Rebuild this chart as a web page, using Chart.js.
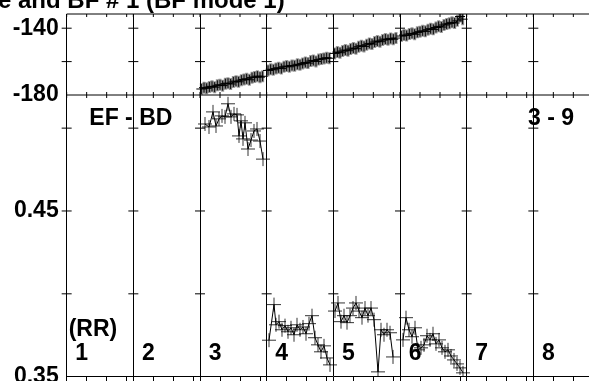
<!DOCTYPE html>
<html>
<head>
<meta charset="utf-8">
<script src="https://cdn.jsdelivr.net/npm/chart.js@4.4.1/dist/chart.umd.min.js"></script>
<style>
  html, body { margin: 0; padding: 0; background: #fff; overflow: hidden; }
  #wrap { position: relative; width: 589px; height: 381px; overflow: hidden; }
  canvas { position: absolute; left: 0; top: 0; }
</style>
</head>
<body>
<div id="wrap"><canvas id="myChart" width="610" height="400"></canvas></div>
<script>
var ctx = document.getElementById('myChart');

// panels along the x axis, each one 100 units wide
const panelNames = ['1', '2', '3', '4', '5', '6', '7', '8'];
const panelTicks = [0, 30, 60, 90];

// upper strip (phase), y ticks
const phaseTicks = [-180, -160, -140];
const phaseLabeled = [-180, -140];
// lower strip (EF - BD), y ticks
const efTicks = [0.35, 0.40, 0.45, 0.50];
const efLabeled = [0.35, 0.45];

// upper strip samples, same positions in every panel
const topX = [2, 6, 10, 14, 18, 22, 26, 30, 34, 38, 42, 46, 50, 54, 58, 62, 66, 70, 74, 78, 82, 86, 90, 94];
const phaseP3 = [-176.4, -175.6, -176.0, -175.2, -174.8, -175.3, -174.2, -173.9, -174.4, -173.2, -172.9, -173.4,
                 -172.2, -171.7, -172.1, -171.1, -170.7, -170.3, -170.9, -169.6, -169.2, -168.7, -169.3, -168.8];
const phaseP4 = [-165.3, -164.6, -164.9, -164.1, -163.7, -164.2, -163.1, -162.7, -163.1, -162.3, -162.5, -161.6,
                 -161.9, -161.1, -160.5, -160.9, -159.7, -159.3, -159.9, -158.8, -158.5, -158.1, -157.7, -158.0];
const phaseP5 = [-155.1, -154.3, -154.7, -153.7, -153.1, -153.5, -152.5, -151.9, -152.3, -151.1, -150.5, -150.9,
                 -149.9, -149.1, -149.5, -148.3, -147.7, -148.1, -147.1, -146.5, -146.9, -146.1, -146.6, -145.9];
const phaseP6 = [-144.7, -144.1, -144.4, -143.5, -143.1, -143.6, -142.5, -142.1, -141.6, -141.9, -140.9, -140.3,
                 -140.7, -139.6, -138.9, -139.3, -138.1, -137.5, -137.1, -136.5, -136.9, -135.6, -133.0, -134.6];

// lower strip samples
const efX3 = [7.5, 13.5, 19.5, 24, 28.5, 33, 37.5, 42, 46.5, 51, 55.5, 58.5, 61.5, 64.5, 67.5, 72, 76.5, 81, 85.5, 90, 94.5];
const efP3 = [0.5025, 0.5007, 0.5098, 0.5013, 0.5056, 0.5074, 0.5068, 0.5147, 0.5068, 0.5086, 0.5080, 0.4953,
              0.5044, 0.4935, 0.5032, 0.4874, 0.4928, 0.4983, 0.4995, 0.4922, 0.4813];
const efX4 = [3.5, 11, 14, 18.5, 23, 27.5, 32, 36.5, 41, 45.5, 50, 54.5, 59, 63.5, 68, 72.5, 77, 81.5, 86, 90.5, 95];
const efP4 = [0.3720, 0.3935, 0.3813, 0.3832, 0.3783, 0.3808, 0.3771, 0.3795, 0.3753, 0.3813, 0.3783, 0.3800,
              0.3759, 0.3820, 0.3868, 0.3735, 0.3692, 0.3650, 0.3686, 0.3613, 0.3571];
const efX5 = [2.5, 7, 11.5, 16, 20.5, 25, 29.5, 34, 38.5, 43, 47.5, 52, 56.5, 61, 67, 71.5, 76, 80.5, 85, 89.5];
const efP5 = [0.3896, 0.3945, 0.3832, 0.3868, 0.3826, 0.3868, 0.3914, 0.3945, 0.3896, 0.3856, 0.3914, 0.3868,
              0.3914, 0.3844, 0.3529, 0.3783, 0.3753, 0.3783, 0.3765, 0.3619];
const efX6 = [4.5, 9, 13.5, 18, 22.5, 27, 31.5, 36, 40.5, 45, 49.5, 54, 58.5, 63, 67.5, 72, 76.5, 81, 85.5, 90, 94.5];
const efP6 = [0.3722, 0.3856, 0.3783, 0.3741, 0.3795, 0.3662, 0.3674, 0.3692, 0.3747, 0.3722, 0.3759, 0.3698,
              0.3722, 0.3674, 0.3650, 0.3662, 0.3625, 0.3601, 0.3577, 0.3553, 0.3523];

// join the panels into one series, with a break between panels
function joinPanels(list) {
    let out = [];
    list.forEach(([panel, xs, ys]) => {
        xs.forEach((x, i) => out.push({x: panel * 100 + x, y: ys[i]}));
        out.push({x: panel * 100 + 99, y: null});
    });
    return out;
}

let phaseData = joinPanels([[2, topX, phaseP3], [3, topX, phaseP4], [4, topX, phaseP5], [5, topX, phaseP6]]);
let efData = joinPanels([[2, efX3, efP3], [3, efX4, efP4], [4, efX5, efP5], [5, efX6, efP6]]);

const FONT = '"Liberation Sans", Arial, sans-serif';

const frame = {
    id: 'frame',
    beforeDatasetsDraw(chart) {
        const {ctx, chartArea, scales} = chart;
        const xs = scales.x, yP = scales.yPhase, yE = scales.yEf;
        ctx.save();
        ctx.strokeStyle = '#000';
        ctx.lineWidth = 1;
        ctx.beginPath();
        [chartArea.top, yP.bottom].forEach(y => {
            ctx.moveTo(chartArea.left, y);
            ctx.lineTo(chartArea.right, y);
        });
        xs.ticks.forEach(t => {
            const x = xs.getPixelForValue(t.value);
            ctx.moveTo(x, chartArea.top);
            ctx.lineTo(x, chartArea.top + 3);
            ctx.moveTo(x, yP.bottom - 3);
            ctx.lineTo(x, yP.bottom + 3);
        });
        for (let p = 0; p <= panelNames.length; p++) {
            const x = xs.getPixelForValue(p * 100);
            phaseTicks.slice(1).forEach(v => {
                const y = yP.getPixelForValue(v);
                ctx.moveTo(x - 5, y);
                ctx.lineTo(x + 5, y);
            });
            efTicks.slice(1).forEach(v => {
                const y = yE.getPixelForValue(v);
                ctx.moveTo(x - 5, y);
                ctx.lineTo(x + 5, y);
            });
        }
        ctx.stroke();
        ctx.restore();
    }
};

const notes = {
    id: 'notes',
    afterDraw(chart) {
        const {ctx, scales: {x, yEf}} = chart;
        ctx.save();
        ctx.fillStyle = '#000';
        ctx.font = 'bold 24px ' + FONT;
        ctx.textBaseline = 'alphabetic';
        ctx.fillText('e and BF # 1 (BF mode 1)', -2, 7.5);
        ctx.font = 'bold 23px ' + FONT;
        ctx.textBaseline = 'middle';
        ctx.fillText('EF - BD', x.getPixelForValue(34), yEf.getPixelForValue(0.5056));
        ctx.fillText('3 - 9', x.getPixelForValue(692), yEf.getPixelForValue(0.5056));
        ctx.fillText('(RR)', x.getPixelForValue(3), yEf.getPixelForValue(0.3783));
        panelNames.forEach((n, p) => {
            ctx.fillText(n, x.getPixelForValue(p * 100 + 13), yEf.getPixelForValue(0.3638));
        });
        ctx.restore();
    }
};

function fixWidth(s) {
    s.width = 66.67;
    s.paddingTop = 0;
    s.paddingBottom = 0;
}

var myChart = new Chart(ctx, {
    type: 'line',
    data: {
        datasets: [
            {
                data: phaseData,
                yAxisID: 'yPhase',
                borderColor: '#000',
                borderWidth: 1,
                pointStyle: 'cross',
                pointRadius: 5,
                pointBorderColor: '#000',
                pointBorderWidth: 1
            },
            {
                data: phaseData,
                yAxisID: 'yPhase',
                showLine: false,
                pointStyle: 'line',
                pointRotation: 90,
                pointRadius: 6,
                pointBorderColor: 'rgba(0,0,0,0.4)',
                pointBorderWidth: 3
            },
            {
                data: efData,
                yAxisID: 'yEf',
                borderColor: '#000',
                borderWidth: 1,
                pointStyle: 'cross',
                pointRadius: 7,
                pointBorderColor: 'rgba(0,0,0,0.8)',
                pointBorderWidth: 1
            }
        ]
    },
    options: {
        responsive: false,
        animation: false,
        layout: { padding: { left: 0, top: 14, right: 10, bottom: 18.33 } },
        plugins: {
            legend: { display: false },
            tooltip: { enabled: false }
        },
        scales: {
            x: {
                type: 'linear',
                min: 0,
                max: 800,
                afterBuildTicks: (s) => {
                    let t = [];
                    panelNames.forEach((n, p) => panelTicks.forEach(v => t.push({value: p * 100 + v})));
                    t.push({value: 800});
                    s.ticks = t;
                },
                ticks: { display: false },
                grid: {
                    color: (c) => (c.tick && c.tick.value % 100 === 0) ? '#000' : 'rgba(0,0,0,0)',
                    tickColor: '#000',
                    tickLength: 5,
                    drawTicks: true
                },
                border: { display: true, color: '#000' },
                afterFit: (s) => { s.height = 5; s.paddingLeft = 0; s.paddingRight = 0; }
            },
            yPhase: {
                type: 'linear',
                position: 'left',
                stack: 'v',
                stackWeight: 81,
                weight: 2,
                min: -180,
                max: -131.5,
                afterBuildTicks: (s) => { s.ticks = phaseTicks.map(v => ({value: v})); },
                ticks: {
                    callback: (v) => phaseLabeled.includes(v) ? String(v) : '',
                    font: { family: FONT, size: 23, weight: 'bold' },
                    color: '#000',
                    padding: 8
                },
                grid: { display: false, drawTicks: false },
                border: { display: true, color: '#000' },
                afterFit: fixWidth
            },
            yEf: {
                type: 'linear',
                position: 'left',
                stack: 'v',
                stackWeight: 281.67,
                weight: 1,
                min: 0.35,
                max: 0.52,
                afterBuildTicks: (s) => { s.ticks = efTicks.map(v => ({value: v})); },
                ticks: {
                    callback: (v) => efLabeled.includes(v) ? v.toFixed(2) : '',
                    font: { family: FONT, size: 23, weight: 'bold' },
                    color: '#000',
                    padding: 8
                },
                grid: { display: false, drawTicks: false },
                border: { display: true, color: '#000' },
                afterFit: fixWidth
            }
        }
    },
    plugins: [frame, notes]
});
</script>
</body>
</html>
